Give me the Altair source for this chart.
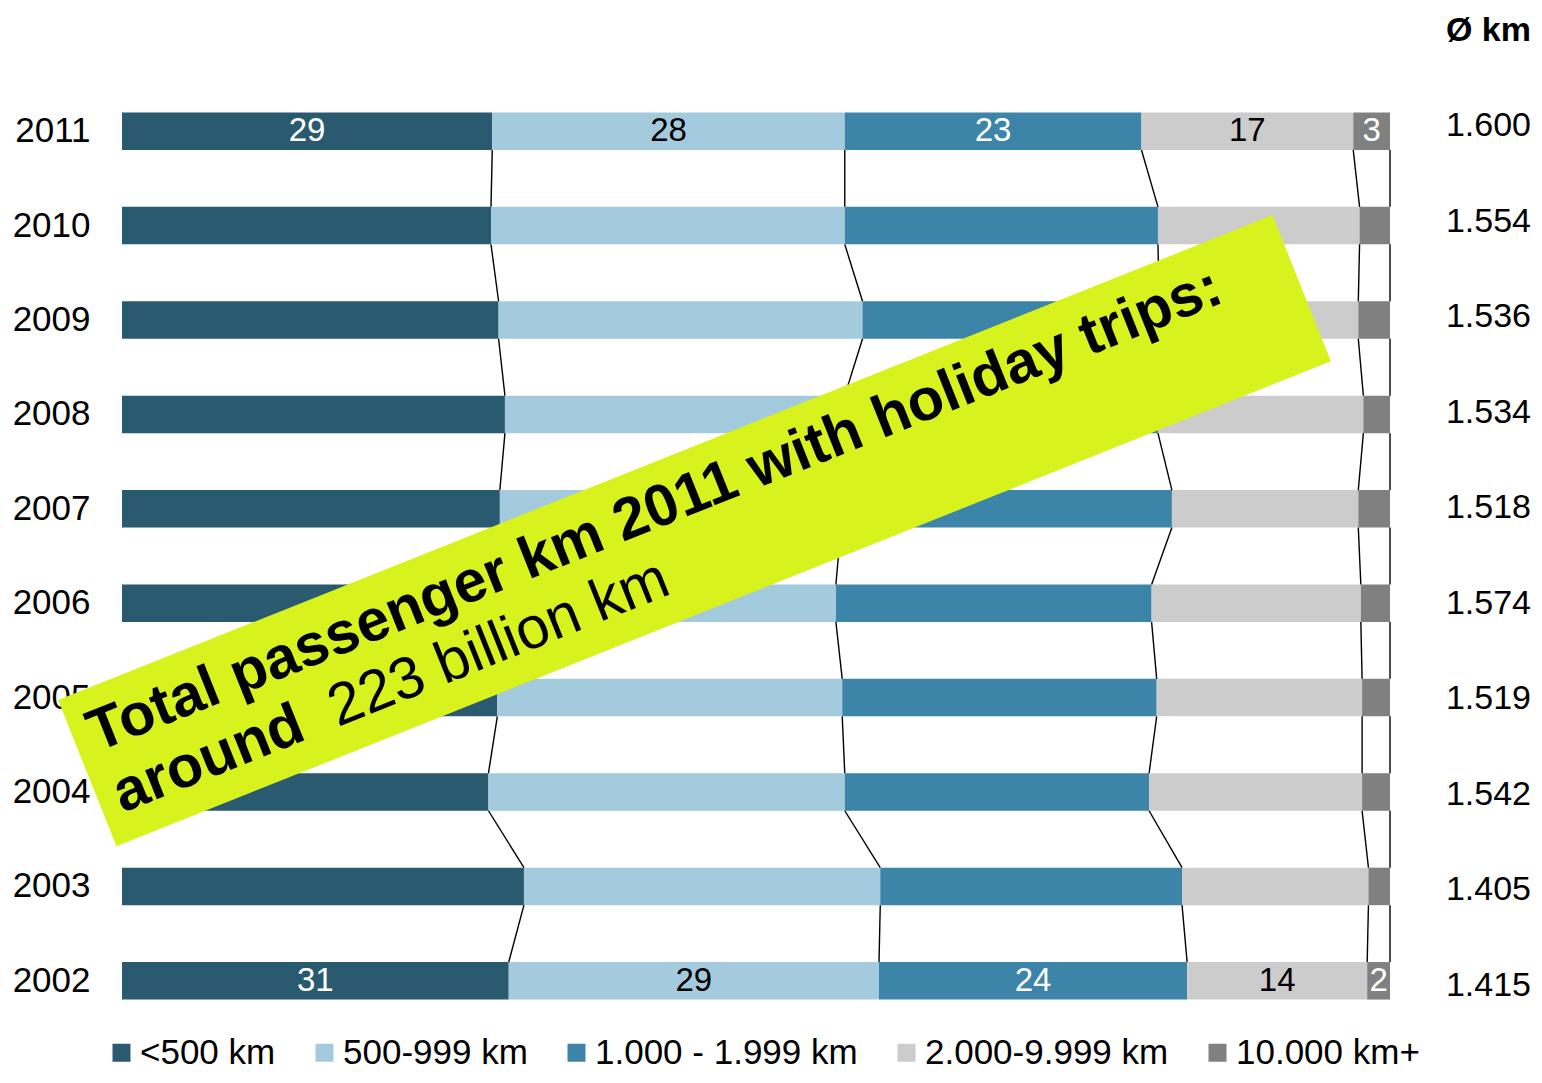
import math
import altair as alt
import pandas as pd

# ---------------- data ----------------
years = ["2011", "2010", "2009", "2008", "2007", "2006", "2005", "2004", "2003", "2002"]
categories = ["<500 km", "500-999 km", "1.000 - 1.999 km", "2.000-9.999 km", "10.000 km+"]

share_lt500 = [29.2, 29.1, 29.7, 30.2, 29.8, 29.2, 29.6, 28.9, 31.7, 30.5]
share_500_999 = [27.8, 27.9, 28.7, 26.8, 26.9, 27.1, 27.2, 28.1, 28.1, 29.2]
share_1000_1999 = [23.4, 24.7, 23.4, 24.7, 26.1, 24.9, 24.8, 24.0, 23.8, 24.3]
share_2000_9999 = [16.7, 15.9, 15.7, 16.2, 14.7, 16.5, 16.2, 16.8, 14.7, 14.2]
share_10000_plus = [2.9, 2.4, 2.5, 2.1, 2.5, 2.3, 2.2, 2.2, 1.7, 1.8]

labels_2011 = ["29", "28", "23", "17", "3"]
labels_2002 = ["31", "29", "24", "14", "2"]

avg_km = ["1.600", "1.554", "1.536", "1.534", "1.518", "1.574", "1.519", "1.542", "1.405", "1.415"]
avg_header = "Ø km"

banner_line1 = "Total passenger km 2011 with holiday trips:"
banner_line2a = "around"
banner_line2b = "223 billion km"

colors = ["#2A5A70", "#A4CBDD", "#3C84A8", "#CCCCCC", "#808080"]
label_colors = ["white", "black", "white", "black", "white"]

# ---------------- tables ----------------
series = [share_lt500, share_500_999, share_1000_1999, share_2000_9999, share_10000_plus]
seg_rows = []
bounds = {}
for i, yr in enumerate(years):
    cum = 0.0
    b = []
    for c, cat in enumerate(categories):
        v = series[c][i]
        lab = ""
        if yr == "2011":
            lab = labels_2011[c]
        elif yr == "2002":
            lab = labels_2002[c]
        seg_rows.append({"year": yr, "cat": cat, "order": c, "x0": cum, "x1": cum + v,
                         "mid": cum + v / 2, "label": lab, "lcol": label_colors[c]})
        cum += v
        b.append(cum)
    bounds[yr] = b
segs = pd.DataFrame(seg_rows)

conn_rows = []
for i in range(len(years) - 1):
    up, lo = years[i], years[i + 1]
    for k in range(len(categories)):
        conn_rows.append({"upper": up, "lower": lo, "xu": bounds[up][k], "xl": bounds[lo][k]})
conns = pd.DataFrame(conn_rows)

avg_df = pd.DataFrame({"year": years, "avg": avg_km})

# ---------------- layout ----------------
W, H = 1268, 944
BAR_PX = 37.5
step = H / len(years)
p_in = 1 - BAR_PX / step
FONT = "Liberation Sans"
PAD = {"left": 114, "top": 76, "right": 144, "bottom": 42}

yscale = alt.Scale(domain=years, paddingInner=p_in, paddingOuter=p_in / 2)
avg_scale = alt.Scale(type="point", domain=years, padding=0.445)
xscale = alt.Scale(domain=[0, 100], nice=False, zero=True)
yaxis = alt.Axis(title=None, domain=False, ticks=False, labelFontSize=35,
                 labelPadding=32, labelColor="black", labelFont=FONT)

bars = alt.Chart(segs).mark_bar().encode(
    y=alt.Y("year:N", scale=yscale, sort=years, axis=yaxis),
    x=alt.X("x0:Q", scale=xscale, axis=None),
    x2="x1:Q",
    color=alt.Color("cat:N", scale=alt.Scale(domain=categories, range=colors),
                    legend=alt.Legend(title=None, orient="none", legendX=-18, legendY=951,
                                      direction="horizontal", symbolType="square",
                                      symbolSize=324, symbolStrokeWidth=0, symbolOpacity=1,
                                      labelFontSize=35, labelFont=FONT,
                                      labelColor="black", labelOffset=1, columnPadding=31,
                                      labelLimit=500, padding=0)),
)

conn = alt.Chart(conns).mark_rule(color="black", strokeWidth=1.4,
                                  yOffset=BAR_PX / 2, y2Offset=-BAR_PX / 2).encode(
    x=alt.X("xu:Q", scale=xscale, axis=None),
    x2="xl:Q",
    y=alt.Y("upper:N", scale=yscale, sort=years, axis=None),
    y2="lower:N",
)

lab_base = alt.Chart(segs).transform_filter("datum.label != ''")
lab_white = lab_base.transform_filter("datum.lcol == 'white'").mark_text(
    fontSize=33, font=FONT, color="white", baseline="middle").encode(
    x=alt.X("mid:Q", scale=xscale, axis=None),
    y=alt.Y("year:N", scale=yscale, sort=years, axis=None),
    text="label:N")
lab_black = lab_base.transform_filter("datum.lcol == 'black'").mark_text(
    fontSize=33, font=FONT, color="black", baseline="middle").encode(
    x=alt.X("mid:Q", scale=xscale, axis=None),
    y=alt.Y("year:N", scale=yscale, sort=years, axis=None),
    text="label:N")

NUM_X = W + 141
avg_text = alt.Chart(avg_df).mark_text(align="right", baseline="middle", fontSize=34,
                                       font=FONT, color="black").encode(
    x=alt.value(NUM_X),
    y=alt.Y("year:N", scale=avg_scale, sort=years, axis=None),
    text="avg:N")

header = alt.Chart(pd.DataFrame({"t": [avg_header]})).mark_text(
    align="right", baseline="middle", fontSize=34, font=FONT, fontWeight="bold",
    color="black").encode(x=alt.value(NUM_X), y=alt.value(-53), text="t:N")

# ---------------- banner (annotation) ----------------
BANNER_CENTER = (572.5, 446.7)
BANNER_LEN = 1307.7
BANNER_THICK = 157.4
BANNER_ANGLE = 21.77
th = math.radians(BANNER_ANGLE)
ux, uy = math.cos(th), -math.sin(th)
vx, vy = math.sin(th), math.cos(th)


def at(u, v):
    return (BANNER_CENTER[0] + u * ux + v * vx, BANNER_CENTER[1] + u * uy + v * vy)


pl = at(-BANNER_LEN / 2, 0)
pr = at(BANNER_LEN / 2, 0)
one = pd.DataFrame({"k": [0]})
banner = alt.Chart(one).mark_rule(strokeWidth=BANNER_THICK, strokeCap="butt",
                                  color="#D8F21E").encode(
    x=alt.value(pl[0]), y=alt.value(pl[1]), x2=alt.value(pr[0]), y2=alt.value(pr[1]))

BFS = 59
t1 = at(-637, -16)
t2a = at(-636, 50)
t2b = at(-404, 50)
rot = 360 - BANNER_ANGLE


def btext(pos, txt, weight):
    return alt.Chart(one).mark_text(angle=rot, align="left", baseline="alphabetic",
                                    fontSize=BFS, font=FONT, fontWeight=weight,
                                    color="black").encode(
        x=alt.value(pos[0]), y=alt.value(pos[1]), text=alt.value(txt))


chart = alt.layer(
    bars, conn, lab_white, lab_black, avg_text, header, banner,
    btext(t1, banner_line1, "bold"), btext(t2a, banner_line2a, "bold"),
    btext(t2b, banner_line2b, "normal"),
).resolve_scale(y="independent").properties(
    width=W, height=H,
    autosize=alt.AutoSizeParams(type="none"),
    padding=PAD,
).configure(font=FONT).configure_view(stroke=None)

chart.save("out.html", embed_options={"renderer": "svg", "actions": False})
